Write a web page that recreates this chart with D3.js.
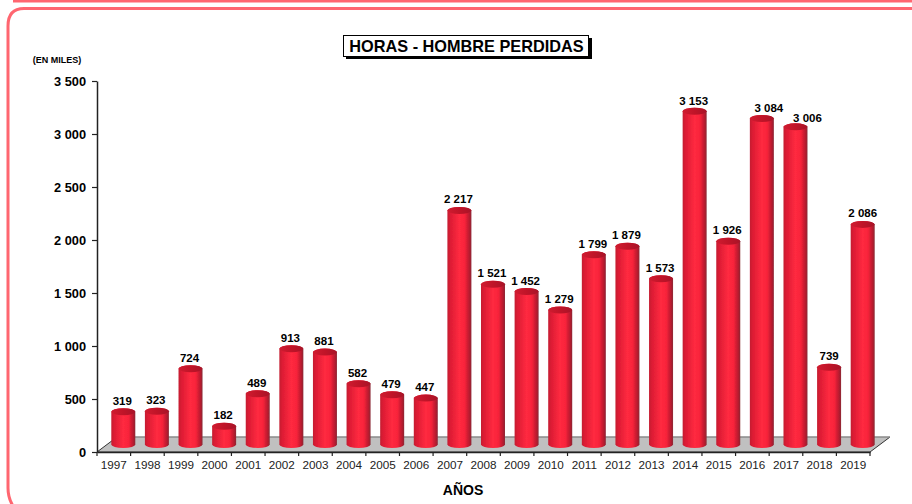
<!DOCTYPE html>
<html>
<head>
<meta charset="utf-8">
<script src="https://cdnjs.cloudflare.com/ajax/libs/d3/7.8.5/d3.min.js"></script>
<style>
html,body{margin:0;padding:0;background:#fff;overflow:hidden}
text{font-family:"Liberation Sans",Arial,sans-serif}
</style>
</head>
<body>
<svg id="c" width="912" height="504"></svg>
<script>
const years = ["1997","1998","1999","2000","2001","2002","2003","2004","2005","2006","2007","2008","2009","2010","2011","2012","2013","2014","2015","2016","2017","2018","2019"];
const hours = [319,323,724,182,489,913,881,582,479,447,2217,1521,1452,1279,1799,1879,1573,3153,1926,3084,3006,739,2086];
const yTicks = [0,500,1000,1500,2000,2500,3000,3500];
const titleText = "HORAS - HOMBRE PERDIDAS";
const unitText = "(EN MILES)";
const xTitle = "AÑOS";

// layout only
const M = {l:97, r:870, t:81, b:452};
const depth = {dx:20, dy:15};
const barW = 24, barShift = 9.5, capRy = 3.5, lift = 6.5;
const labelNudge = {"2014":[0,1],"2016":[8,0],"2017":[13,2],"2019":[1,0],"2018":[1,0]};

const fmt = v => String(v).replace(/\B(?=(\d{3})+$)/g," ");
const svg = d3.select("#c");
const x = d3.scaleBand().domain(years).range([M.l,M.r]).padding(0);
const y = d3.scaleLinear().domain([0,3500]).range([M.b,M.t]);

// frame
const pink = "#ff6670";
svg.append("path").attr("d","M913,1 H13").attr("fill","none").attr("stroke",pink).attr("stroke-width",3);
svg.append("path").attr("d","M913,8.5 H24 Q8,8.5 8,26 V488 Q8,498 13,506").attr("fill","none").attr("stroke",pink).attr("stroke-width",3);

// gradients
const defs = svg.append("defs");
const g = defs.append("linearGradient").attr("id","body").attr("x1",0).attr("x2",1).attr("y1",0).attr("y2",0);
[[0,"#c41c30"],[0.12,"#dc1c34"],[0.5,"#ff2a40"],[0.72,"#f8233a"],[0.92,"#b51a2e"],[1,"#8a2a36"]].forEach(s=>g.append("stop").attr("offset",s[0]).attr("stop-color",s[1]));
const cap = defs.append("linearGradient").attr("id","cap").attr("x1",0).attr("x2",1).attr("y1",0).attr("y2",0);
[[0,"#d01c30"],[0.5,"#c01428"],[1,"#a81428"]].forEach(s=>cap.append("stop").attr("offset",s[0]).attr("stop-color",s[1]));
const sh = defs.append("filter").attr("id","soft").attr("x","-10%").attr("width","120%").attr("y","-2%").attr("height","104%");
sh.append("feGaussianBlur").attr("stdDeviation",0.5);

// floor
svg.append("polygon")
  .attr("points",[[M.l,M.b],[M.l+depth.dx,M.b-depth.dy],[M.r+depth.dx,M.b-depth.dy],[M.r,M.b]].join(" "))
  .attr("fill","#c0c0c0").attr("stroke","#333").attr("stroke-width",1);
svg.append("line").attr("x1",M.l+depth.dx).attr("x2",M.r+depth.dx).attr("y1",M.b-depth.dy).attr("y2",M.b-depth.dy).attr("stroke","#b5b5b5");

// axes
const ax = svg.append("g").attr("transform",`translate(0,${M.b})`)
  .call(d3.axisBottom(x).tickSize(5).tickSizeOuter(0).tickFormat(d=>d));
ax.selectAll(".tick").remove();
const tickX = d3.scalePoint().domain(d3.range(years.length+1)).range([M.l,M.r]);
ax.selectAll("line.t").data(tickX.domain()).join("line").attr("class","t")
  .attr("x1",d=>tickX(d)).attr("x2",d=>tickX(d)).attr("y1",0).attr("y2",4).attr("stroke","#222").attr("stroke-width",1.2);
ax.select(".domain").attr("stroke","#222").attr("stroke-width",1.5);
ax.selectAll("text.yr").data(years).join("text").attr("class","yr")
  .attr("x",d=>x(d)+x.bandwidth()/2).attr("y",17).attr("text-anchor","middle")
  .attr("font-size",11.7).attr("fill","#222").text(d=>d);

const ay = svg.append("g").attr("transform",`translate(${M.l},0)`)
  .call(d3.axisLeft(y).tickValues(yTicks).tickSize(5).tickSizeOuter(0).tickFormat(fmt));
ay.select(".domain").attr("stroke","#222").attr("stroke-width",1.5);
ay.selectAll(".tick line").attr("stroke","#222").attr("stroke-width",1.2);
ay.selectAll(".tick text").attr("x",-11).attr("font-size",12.8).attr("font-weight","bold").attr("fill","#000")
  .style("font-family",'"Liberation Sans",Arial,sans-serif');

// bars
const bars = svg.append("g").selectAll("g").data(years.map((yr,i)=>({yr,v:hours[i]}))).join("g")
  .attr("transform",d=>`translate(${x(d.yr)+x.bandwidth()/2+barShift},0)`);
bars.append("path").attr("filter","url(#soft)").attr("fill","url(#body)")
  .attr("d",d=>{
    const top=y(d.v)-lift, bot=y(0)-lift-1, r=barW/2;
    return `M${-r},${top} V${bot} A${r},${capRy} 0 0 0 ${r},${bot} V${top} A${r},${capRy} 0 0 0 ${-r},${top} Z`;
  });
bars.append("ellipse").attr("cx",0).attr("cy",d=>y(d.v)-lift).attr("rx",barW/2).attr("ry",capRy).attr("fill","url(#cap)");

// value labels
svg.append("g").selectAll("text").data(years.map((yr,i)=>({yr,v:hours[i]}))).join("text")
  .attr("x",d=>x(d.yr)+x.bandwidth()/2+barShift-1+(labelNudge[d.yr]?labelNudge[d.yr][0]:0))
  .attr("y",d=>y(d.v)-lift-7+(labelNudge[d.yr]?labelNudge[d.yr][1]:0))
  .attr("text-anchor","middle").attr("font-size",11.5).attr("font-weight","bold").attr("fill","#000")
  .text(d=>fmt(d.v));

// title
svg.append("rect").attr("x",346).attr("y",38).attr("width",246).attr("height",21).attr("fill","#000");
svg.append("rect").attr("x",343.5).attr("y",35.5).attr("width",245).attr("height",21).attr("fill","#fff").attr("stroke","#000").attr("stroke-width",1);
svg.append("text").attr("x",466.5).attr("y",52).attr("text-anchor","middle").attr("font-size",16.3).attr("font-weight","bold").text(titleText);
svg.append("text").attr("x",57).attr("y",63).attr("text-anchor","middle").attr("font-size",9).attr("font-weight","bold").text(unitText);
svg.append("text").attr("x",463).attr("y",495).attr("text-anchor","middle").attr("font-size",14).attr("font-weight","bold").text(xTitle);
</script>
</body>
</html>
